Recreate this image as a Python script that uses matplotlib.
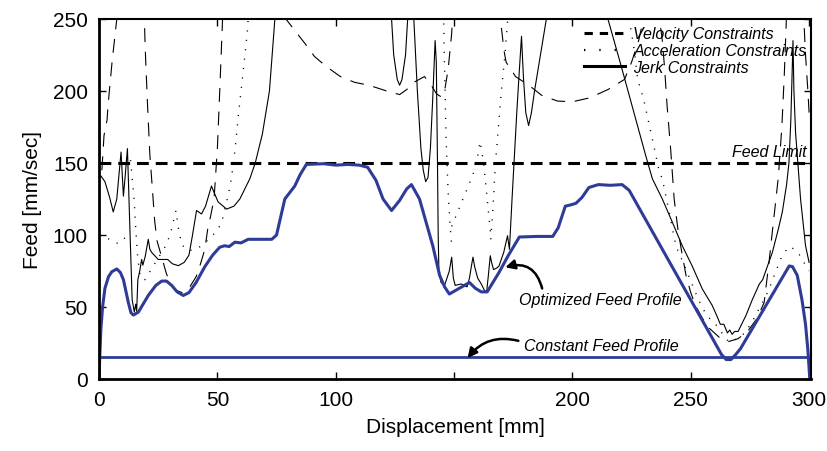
import matplotlib
matplotlib.use("Agg")
import matplotlib.pyplot as plt
from matplotlib.lines import Line2D

plt.rcParams["font.family"] = ["Liberation Sans", "DejaVu Sans"]
plt.rcParams["lines.scale_dashes"] = False
plt.rcParams["lines.solid_joinstyle"] = "round"

BLUE = "#2E3C98"

# optimized feed profile (blue)
opt_x = [0, 0.3, 0.8, 1.5, 2.5, 4, 5.4, 7.5, 9, 10.3, 12.4, 13.5, 14.5, 16.6,
         20.8, 24, 26.5, 28.5, 30.7, 33, 35.6, 38, 41, 44.7, 48, 51, 53, 55,
         57.4, 60, 63, 73, 75, 78.5, 82.7, 85, 87.6, 95, 100, 105, 110, 113.5,
         117, 120, 123.6, 127, 130, 132, 135.4, 141, 143.9, 146, 148, 156.5,
         159, 161.5, 164, 169, 173, 177.6, 185, 191.7, 194, 197, 199.5, 201.5,
         204, 207, 211, 216, 221, 224, 263, 265, 267, 269, 271, 291.6, 293,
         295, 297, 298.5, 299.5, 300.3]
opt_y = [0, 15, 35, 50, 63, 71, 74.5, 76.4, 74, 69, 53, 46, 44.4, 46.4,
         58, 65, 68, 68, 65, 60.5, 58, 60, 67, 78, 86, 91.5, 92.5, 92,
         95, 94.5, 97, 97, 100, 125, 134, 142, 149, 149.5, 148.5, 149, 148.5, 147,
         138, 125, 117, 124, 132, 135, 125, 92.6, 72, 64, 59, 67,
         63, 60.5, 60.5, 74, 86, 98.6, 99, 99, 105, 120, 121, 122,
         126, 133, 135, 134.5, 135, 131, 17, 13.5, 13.5, 17, 21, 78.5, 78,
         72, 55, 38, 20, 0]

# constant feed profile and feed limit
const_x = [0, 300]
const_y = [15, 15]
limit_x = [0, 300]
limit_y = [150, 150]

# velocity constraints (dashed), one list per branch
vel_x = [
    [1.2, 1.7, 2.1, 3.4, 3.8, 5.5, 7.5, 8.0],
    [19, 19.5, 20.5, 21.5, 22.5, 23.5, 24.5, 26.4, 28.5, 30, 32, 35, 38, 41,
     42.6, 44.7, 46, 47, 48.6, 50, 51, 52.2, 52.5],
    [78, 82.7, 87, 91, 96, 102, 108, 114, 121.5, 127, 130, 133, 137.5, 140,
     142.6, 144.5, 146, 147.5, 149, 149.6],
    [169, 169.5, 170.3, 171, 172, 176, 182, 187, 193.7, 200, 206.7, 211, 215,
     219, 222, 225, 228, 230, 231],
    [236, 238, 239, 240, 241.5, 243, 244.5, 246, 248, 250, 252, 255, 258, 262,
     266, 270, 274, 278, 281, 283, 285, 287, 288.5, 289.5, 290.3, 290.6],
    [297.5, 298.5, 299.5, 300],
]
vel_y = [
    [145, 158, 169, 180, 190, 220, 250, 260],
    [260, 230, 190, 155, 133, 110, 96, 85, 73, 67, 62, 60, 63, 71,
     78.5, 90, 105, 112, 125, 160, 200, 250, 260],
    [252, 242, 233, 224, 217, 210, 206, 204, 200, 197.5, 201, 206, 210, 205,
     198, 196, 200, 215, 240, 260],
    [260, 250, 240, 229, 220, 210, 203.5, 197, 193, 192.5, 195, 198, 201,
     205, 208, 220, 235, 250, 260],
    [260, 235, 215, 190, 160, 125, 105, 90, 72, 60, 51, 42, 35, 29,
     26, 28, 33, 42, 53, 80, 110, 140, 175, 210, 245, 260],
    [260, 225, 200, 185],
]

# acceleration constraints (dotted)
acc_x = [
    [0, 3, 6, 8, 11],
    [13.3, 14, 14.8, 15.5, 16.3, 17.5, 19.4, 22, 25, 28, 30, 31.5, 32.5, 33.5,
     35, 38, 42, 45, 50, 52, 54.5, 56, 57.5, 59, 61, 62.7, 63.2],
    [145.5, 145.8, 146.2, 146.6, 147, 147.5, 148.2, 149],
    [165.5, 166.5, 167.5, 168.5, 170, 171.5, 172.6, 173],
    [149, 152, 155, 158, 160, 161, 162.5, 164, 165.5],
    [224, 226, 227.6, 230, 232, 234, 236.7, 238, 241, 243.7, 247, 249, 252,
     255, 258, 261, 264, 266, 268, 270, 273, 276, 280, 283, 286, 288.6,
     291.5, 294, 296, 298.5, 300],
]
acc_y = [
    [97, 98, 96, 94, 98],
    [152, 140, 125, 105, 85, 70, 69, 76, 84, 92, 100, 110, 117, 105,
     93, 89, 91, 95, 103, 110, 127, 140, 160, 185, 215, 242, 255],
    [260, 230, 200, 170, 150, 130, 110, 92],
    [97, 120, 150, 170, 200, 225, 248, 260],
    [106, 118, 130, 142, 155, 165, 150, 125, 100],
    [250, 230, 208, 195, 180, 165, 144, 139, 115, 92.6, 80, 72, 60,
     49, 42, 37, 30, 26, 26, 29, 32, 40, 52, 62, 75, 85.6,
     92, 90, 86, 79, 75],
]

# jerk constraints (solid)
jerk_x = [
    [0, 0.8, 2.5, 4.5, 6, 7.5, 9.3, 10.3, 11, 12, 13, 14, 14.9, 15.5, 15.9,
     16.4, 17.2, 18, 18.5, 19.5, 20.8, 21.5, 22.2, 25, 29, 31, 33.5, 36, 38,
     39.5, 41.2, 43.3, 45, 47.5, 48.5, 50.3, 53.9, 57, 59.5, 63.7, 66, 69,
     72, 74.3, 74.6],
    [123.3, 123.6, 124.5, 126, 127, 128, 129.5, 130.4, 130.6],
    [132.8, 133, 134.5, 136, 137, 138, 139, 140, 141, 142, 142.5, 143, 143.3,
     143.6, 144.5, 146, 148, 149, 149.7, 150.5, 153, 155.5, 156.5, 157.5,
     158, 158.7, 160, 161.5, 163, 163.8, 164.5, 165.3, 166, 166.7, 168, 169,
     171, 172.6, 173.4, 174.5, 175.5, 176.5, 177.5, 178.5, 179.3, 180.3,
     181.5, 182.7, 184, 186, 187.5, 189, 189.3],
    [214.5, 215, 220.5, 226, 231, 233.8, 238, 242.2, 246.4, 250.6, 254.9,
     259.1, 261, 262.5, 264, 265.5, 266.5, 267.5, 268.5, 270, 271.5, 273.3,
     276, 279, 280.4, 284.5, 287, 288.7, 290.5, 291.5, 292.3, 292.8, 293.2,
     293.6, 294.3, 296.4, 298.5, 300],
]
jerk_y = [
    [140, 141, 137, 126, 116, 125, 157.6, 127, 140, 160, 106.5, 55, 46.5, 52,
     47, 69, 75, 83, 79, 85, 97, 90, 88, 83, 83, 80, 78.7, 81, 86,
     100, 117, 114.6, 120, 134, 130, 123, 118, 120, 125, 139, 150, 170,
     200, 250, 260],
    [260, 250, 225, 208, 204, 208, 225, 250, 260],
    [260, 250, 200, 160, 145, 137, 140, 160, 195, 235, 220, 150, 100,
     75, 67, 65, 75, 84.6, 70, 65, 66, 64, 70, 80,
     84.6, 78, 70, 66, 61, 61, 72, 85.6, 80, 76, 77, 78.5,
     88, 99.5, 90, 125, 155, 185, 212, 238, 210, 185,
     176, 185, 200, 220, 235, 250, 260],
    [260, 250, 218, 185, 155, 139, 125, 109, 92.6, 78.5, 62.5,
     51, 44, 38, 38, 32, 34, 31, 33, 33, 38, 44,
     55, 66, 69, 88, 104, 116, 135, 150, 180, 210, 235,
     200, 171, 125, 92.6, 81],
]

x_ticks = [0, 50, 100, 150, 200, 250, 300]
x_tick_labels = ["0", "50", "100", "", "200", "250", "300"]
y_ticks = [0, 50, 100, 150, 200, 250]

fig = plt.figure(figsize=(8.28, 4.52), dpi=100)
ax = fig.add_axes([0.1196, 0.1593, 0.8604, 0.7965])

for xs, ys in zip(vel_x, vel_y):
    ax.plot(xs, ys, color="black", lw=0.8, dashes=(10, 7))

for xs, ys in zip(acc_x, acc_y):
    ax.plot(xs, ys, color="black", lw=1.0, dashes=(0.8, 6))

for xs, ys in zip(jerk_x, jerk_y):
    ax.plot(xs, ys, color="black", lw=0.8)

ax.plot(limit_x, limit_y, color="black", lw=2.2, dashes=(8.5, 5))
ax.plot(const_x, const_y, color=BLUE, lw=2.0)
ax.plot(opt_x, opt_y, color=BLUE, lw=2.2)

ax.set_xlim(0, 301)
ax.set_ylim(0, 250)
ax.set_xticks(x_ticks)
ax.set_xticklabels(x_tick_labels)
ax.set_yticks(y_ticks)
ax.tick_params(direction="in", top=True, right=True, length=5, width=1,
               labelsize=15, pad=8)

for side in ["left", "bottom"]:
    ax.spines[side].set_linewidth(2.0)
for side in ["top", "right"]:
    ax.spines[side].set_linewidth(1.5)

ax.set_xlabel("Displacement [mm]", fontsize=15, labelpad=6)
ax.set_ylabel("Feed [mm/sec]", fontsize=15, labelpad=8)

# annotations
ax.text(299, 153, "Feed Limit", fontsize=11.5, style="italic",
        ha="right", va="bottom")
ax.text(177.6, 55.5, "Optimized Feed Profile", fontsize=11.5,
        style="italic", ha="left", va="center")
ax.text(179.7, 23, "Constant Feed Profile", fontsize=11.5,
        style="italic", ha="left", va="center")

ax.annotate("", xy=(170.5, 77), xytext=(187.5, 61),
            arrowprops=dict(arrowstyle="-|>", color="black", lw=1.8,
                            mutation_scale=14,
                            connectionstyle="arc3,rad=0.55"))
ax.annotate("", xy=(155, 13), xytext=(178.3, 26),
            arrowprops=dict(arrowstyle="-|>", color="black", lw=1.8,
                            mutation_scale=14,
                            connectionstyle="arc3,rad=0.35"))

handles = [
    Line2D([], [], color="black", lw=2.2, dashes=(6, 5)),
    Line2D([], [], color="black", lw=1.6, dashes=(1, 10)),
    Line2D([], [], color="black", lw=2.2),
]
labels = ["Velocity Constraints", "Acceleration Constraints",
          "Jerk Constraints"]
leg = ax.legend(handles, labels, loc="upper left",
                bbox_to_anchor=(0.676, 0.988), frameon=False,
                fontsize=11.5, handlelength=2.6, handletextpad=0.5,
                labelspacing=0.1, borderpad=0.2, borderaxespad=0)
for t in leg.get_texts():
    t.set_style("italic")

fig.savefig("out.png", dpi=100)
plt.close(fig)
